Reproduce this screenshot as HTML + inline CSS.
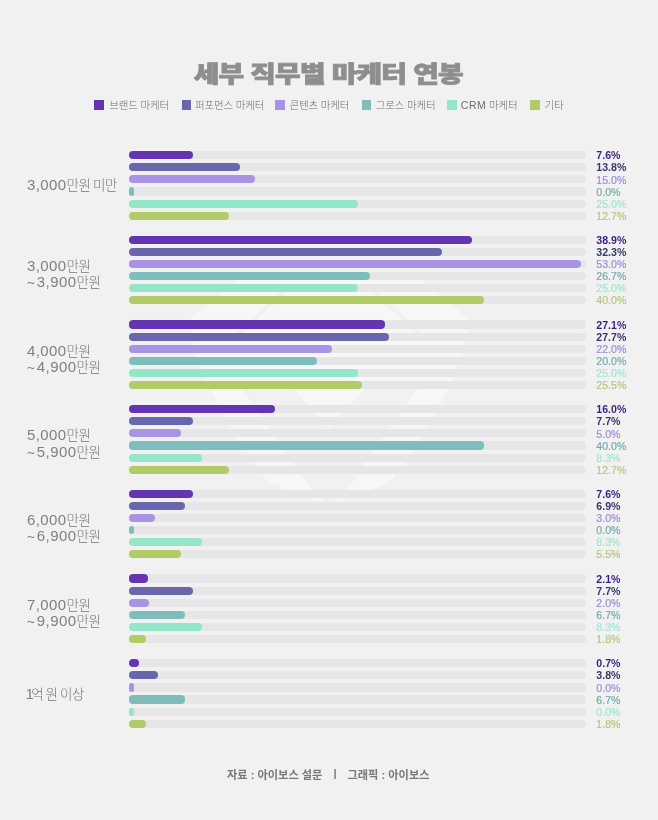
<!DOCTYPE html>
<html lang="ko"><head><meta charset="utf-8"><title>세부 직무별 마케터 연봉</title>
<style>
html,body{margin:0;padding:0}
body{width:658px;height:820px;background:#f1f1f1;position:relative;overflow:hidden;font-family:"Liberation Sans","Noto Sans CJK KR",sans-serif}
.abs{position:absolute;white-space:nowrap}
.title{left:-1px;width:658px;top:56px;text-align:center;font-weight:900;font-size:22.5px;line-height:38px;color:#8e8e8e;letter-spacing:-0.6px;-webkit-text-stroke:0.8px #8e8e8e;transform:scaleX(1.235);transform-origin:328px 50%}
.lg{top:100px;width:9.5px;height:9.5px}
.lt{top:96px;height:18px;line-height:18px;font-size:10.5px;font-weight:300;color:#6c6c6c;letter-spacing:-0.15px;transform-origin:0 50%}
.cat{left:27px;font-size:13.5px;font-weight:300;color:#777;line-height:15.4px;letter-spacing:-0.4px;word-spacing:-1px}
.cat .n{font-size:15px;letter-spacing:0.4px;color:#808080}
.cat .one{letter-spacing:-2.6px;margin-left:-1.5px}
.tr{left:129px;width:456.7px;height:8.2px;border-radius:4.1px;background:#e6e6e6}
.b{left:129px;height:8.2px;border-radius:4.1px}
.v{left:596.3px;font-size:10.6px;line-height:12px;height:12px;-webkit-text-stroke:0.2px}
.v.bd{font-weight:700;-webkit-text-stroke:0}
.foot{top:765.5px;font-size:11.2px;font-weight:700;color:#787878;line-height:18px}
</style></head><body>
<svg class="abs" style="left:0;top:0" width="658" height="820" viewBox="0 0 658 820">
<g fill="#f7f7f7">
<path d="M240 278 L418 278 L470 320 L462 355 L449 388 L209 388 L196 355 L189 320 Z"/>
<path d="M209 388 L241 388 L310 488 L329 506 L300 495 L268 482 L238 440 Z"/>
<path d="M449 388 L417 388 L348 488 L329 506 L358 495 L390 482 L420 440 Z"/>
<path d="M292 388 L366 388 L329 428 Z"/>
</g>
<g stroke="#f1f1f1" stroke-width="4" fill="none">
<path d="M238 334 L288 288"/><path d="M420 334 L370 288"/>
</g>
</svg>
<div class="abs title">세부 직무별 마케터 연봉</div>
<div class="abs lg" style="left:94.2px;background:#6434b3"></div><div class="abs lt" id="lt0" style="left:109.2px">브랜드 마케터</div>
<div class="abs lg" style="left:181.5px;background:#6a66ac"></div><div class="abs lt" id="lt1" style="left:195px">퍼포먼스 마케터</div>
<div class="abs lg" style="left:275.2px;background:#a893e4"></div><div class="abs lt" id="lt2" style="left:289.5px">콘텐츠 마케터</div>
<div class="abs lg" style="left:361.7px;background:#7fbdbd"></div><div class="abs lt" id="lt3" style="left:375.7px">그로스 마케터</div>
<div class="abs lg" style="left:447px;background:#93e6c7"></div><div class="abs lt" id="lt4" style="left:460.8px"><span style="letter-spacing:0.5px">CRM</span> 마케터</div>
<div class="abs lg" style="left:530px;background:#b0cb68"></div><div class="abs lt" id="lt5" style="left:544.5px">기타</div>
<div class="abs cat" style="top:177.4px"><span class="n">3,000</span>만원 미만</div>
<div class="abs tr" style="top:151.10px"></div><div class="abs b" style="top:151.10px;width:64.0px;background:#6434b3"></div><div class="abs v bd" style="top:149.30px;color:#3b1f7d">7.6%</div>
<div class="abs tr" style="top:163.20px"></div><div class="abs b" style="top:163.20px;width:111.0px;background:#6a66ac"></div><div class="abs v bd" style="top:161.40px;color:#38376b">13.8%</div>
<div class="abs tr" style="top:175.30px"></div><div class="abs b" style="top:175.30px;width:126.0px;background:#a893e4"></div><div class="abs v" style="top:173.50px;color:#9b8fd2">15.0%</div>
<div class="abs tr" style="top:187.40px"></div><div class="abs b" style="top:187.40px;width:5.0px;background:#7fbdbd"></div><div class="abs v" style="top:185.60px;color:#74abad">0.0%</div>
<div class="abs tr" style="top:199.50px"></div><div class="abs b" style="top:199.50px;width:229.0px;background:#93e6c7"></div><div class="abs v" style="top:197.70px;color:#a0e8cf">25.0%</div>
<div class="abs tr" style="top:211.60px"></div><div class="abs b" style="top:211.60px;width:99.5px;background:#b0cb68"></div><div class="abs v" style="top:209.80px;color:#b4c87a">12.7%</div>
<div class="abs cat" style="top:258.0px"><span class="n">3,000</span>만원<br><span class="t">~</span> <span class="n">3,900</span>만원</div>
<div class="abs tr" style="top:235.77px"></div><div class="abs b" style="top:235.77px;width:343.0px;background:#6434b3"></div><div class="abs v bd" style="top:233.97px;color:#3b1f7d">38.9%</div>
<div class="abs tr" style="top:247.87px"></div><div class="abs b" style="top:247.87px;width:313.0px;background:#6a66ac"></div><div class="abs v bd" style="top:246.07px;color:#38376b">32.3%</div>
<div class="abs tr" style="top:259.97px"></div><div class="abs b" style="top:259.97px;width:451.5px;background:#a893e4"></div><div class="abs v" style="top:258.17px;color:#9b8fd2">53.0%</div>
<div class="abs tr" style="top:272.07px"></div><div class="abs b" style="top:272.07px;width:241.0px;background:#7fbdbd"></div><div class="abs v" style="top:270.27px;color:#74abad">26.7%</div>
<div class="abs tr" style="top:284.17px"></div><div class="abs b" style="top:284.17px;width:229.0px;background:#93e6c7"></div><div class="abs v" style="top:282.37px;color:#a0e8cf">25.0%</div>
<div class="abs tr" style="top:296.27px"></div><div class="abs b" style="top:296.27px;width:354.5px;background:#b0cb68"></div><div class="abs v" style="top:294.47px;color:#b4c87a">40.0%</div>
<div class="abs cat" style="top:342.6px"><span class="n">4,000</span>만원<br><span class="t">~</span> <span class="n">4,900</span>만원</div>
<div class="abs tr" style="top:320.44px"></div><div class="abs b" style="top:320.44px;width:256.0px;background:#6434b3"></div><div class="abs v bd" style="top:318.64px;color:#3b1f7d">27.1%</div>
<div class="abs tr" style="top:332.54px"></div><div class="abs b" style="top:332.54px;width:259.5px;background:#6a66ac"></div><div class="abs v bd" style="top:330.74px;color:#38376b">27.7%</div>
<div class="abs tr" style="top:344.64px"></div><div class="abs b" style="top:344.64px;width:203.0px;background:#a893e4"></div><div class="abs v" style="top:342.84px;color:#9b8fd2">22.0%</div>
<div class="abs tr" style="top:356.74px"></div><div class="abs b" style="top:356.74px;width:187.5px;background:#7fbdbd"></div><div class="abs v" style="top:354.94px;color:#74abad">20.0%</div>
<div class="abs tr" style="top:368.84px"></div><div class="abs b" style="top:368.84px;width:229.0px;background:#93e6c7"></div><div class="abs v" style="top:367.04px;color:#a0e8cf">25.0%</div>
<div class="abs tr" style="top:380.94px"></div><div class="abs b" style="top:380.94px;width:232.5px;background:#b0cb68"></div><div class="abs v" style="top:379.14px;color:#b4c87a">25.5%</div>
<div class="abs cat" style="top:427.3px"><span class="n">5,000</span>만원<br><span class="t">~</span> <span class="n">5,900</span>만원</div>
<div class="abs tr" style="top:405.11px"></div><div class="abs b" style="top:405.11px;width:146.0px;background:#6434b3"></div><div class="abs v bd" style="top:403.31px;color:#3b1f7d">16.0%</div>
<div class="abs tr" style="top:417.21px"></div><div class="abs b" style="top:417.21px;width:64.0px;background:#6a66ac"></div><div class="abs v bd" style="top:415.41px;color:#38376b">7.7%</div>
<div class="abs tr" style="top:429.31px"></div><div class="abs b" style="top:429.31px;width:52.0px;background:#a893e4"></div><div class="abs v" style="top:427.51px;color:#9b8fd2">5.0%</div>
<div class="abs tr" style="top:441.41px"></div><div class="abs b" style="top:441.41px;width:354.5px;background:#7fbdbd"></div><div class="abs v" style="top:439.61px;color:#74abad">40.0%</div>
<div class="abs tr" style="top:453.51px"></div><div class="abs b" style="top:453.51px;width:73.0px;background:#93e6c7"></div><div class="abs v" style="top:451.71px;color:#a0e8cf">8.3%</div>
<div class="abs tr" style="top:465.61px"></div><div class="abs b" style="top:465.61px;width:99.5px;background:#b0cb68"></div><div class="abs v" style="top:463.81px;color:#b4c87a">12.7%</div>
<div class="abs cat" style="top:512.0px"><span class="n">6,000</span>만원<br><span class="t">~</span> <span class="n">6,900</span>만원</div>
<div class="abs tr" style="top:489.78px"></div><div class="abs b" style="top:489.78px;width:63.5px;background:#6434b3"></div><div class="abs v bd" style="top:487.98px;color:#3b1f7d">7.6%</div>
<div class="abs tr" style="top:501.88px"></div><div class="abs b" style="top:501.88px;width:56.0px;background:#6a66ac"></div><div class="abs v bd" style="top:500.08px;color:#38376b">6.9%</div>
<div class="abs tr" style="top:513.98px"></div><div class="abs b" style="top:513.98px;width:26.0px;background:#a893e4"></div><div class="abs v" style="top:512.18px;color:#9b8fd2">3.0%</div>
<div class="abs tr" style="top:526.08px"></div><div class="abs b" style="top:526.08px;width:5.0px;background:#7fbdbd"></div><div class="abs v" style="top:524.28px;color:#74abad">0.0%</div>
<div class="abs tr" style="top:538.18px"></div><div class="abs b" style="top:538.18px;width:73.0px;background:#93e6c7"></div><div class="abs v" style="top:536.38px;color:#a0e8cf">8.3%</div>
<div class="abs tr" style="top:550.28px"></div><div class="abs b" style="top:550.28px;width:51.5px;background:#b0cb68"></div><div class="abs v" style="top:548.48px;color:#b4c87a">5.5%</div>
<div class="abs cat" style="top:596.7px"><span class="n">7,000</span>만원<br><span class="t">~</span> <span class="n">9,900</span>만원</div>
<div class="abs tr" style="top:574.45px"></div><div class="abs b" style="top:574.45px;width:19.0px;background:#6434b3"></div><div class="abs v bd" style="top:572.65px;color:#3b1f7d">2.1%</div>
<div class="abs tr" style="top:586.55px"></div><div class="abs b" style="top:586.55px;width:63.5px;background:#6a66ac"></div><div class="abs v bd" style="top:584.75px;color:#38376b">7.7%</div>
<div class="abs tr" style="top:598.65px"></div><div class="abs b" style="top:598.65px;width:19.5px;background:#a893e4"></div><div class="abs v" style="top:596.85px;color:#9b8fd2">2.0%</div>
<div class="abs tr" style="top:610.75px"></div><div class="abs b" style="top:610.75px;width:56.0px;background:#7fbdbd"></div><div class="abs v" style="top:608.95px;color:#74abad">6.7%</div>
<div class="abs tr" style="top:622.85px"></div><div class="abs b" style="top:622.85px;width:73.0px;background:#93e6c7"></div><div class="abs v" style="top:621.05px;color:#a0e8cf">8.3%</div>
<div class="abs tr" style="top:634.95px"></div><div class="abs b" style="top:634.95px;width:17.0px;background:#b0cb68"></div><div class="abs v" style="top:633.15px;color:#b4c87a">1.8%</div>
<div class="abs cat" style="top:685.5px"><span class="n one">1</span>억 원 이상</div>
<div class="abs tr" style="top:659.12px"></div><div class="abs b" style="top:659.12px;width:9.7px;background:#6434b3"></div><div class="abs v bd" style="top:657.32px;color:#3b1f7d">0.7%</div>
<div class="abs tr" style="top:671.22px"></div><div class="abs b" style="top:671.22px;width:28.5px;background:#6a66ac"></div><div class="abs v bd" style="top:669.42px;color:#38376b">3.8%</div>
<div class="abs tr" style="top:683.32px"></div><div class="abs b" style="top:683.32px;width:4.5px;background:#a893e4"></div><div class="abs v" style="top:681.52px;color:#9b8fd2">0.0%</div>
<div class="abs tr" style="top:695.42px"></div><div class="abs b" style="top:695.42px;width:56.0px;background:#7fbdbd"></div><div class="abs v" style="top:693.62px;color:#74abad">6.7%</div>
<div class="abs tr" style="top:707.52px"></div><div class="abs b" style="top:707.52px;width:4.5px;background:#93e6c7"></div><div class="abs v" style="top:705.72px;color:#a0e8cf">0.0%</div>
<div class="abs tr" style="top:719.62px"></div><div class="abs b" style="top:719.62px;width:17.0px;background:#b0cb68"></div><div class="abs v" style="top:717.82px;color:#b4c87a">1.8%</div>
<div class="abs foot" style="left:227px">자료 : 아이보스 설문</div><div class="abs foot" style="left:333.5px;top:764px">|</div><div class="abs foot" style="left:347.5px">그래픽 : 아이보스</div>
</body></html>
